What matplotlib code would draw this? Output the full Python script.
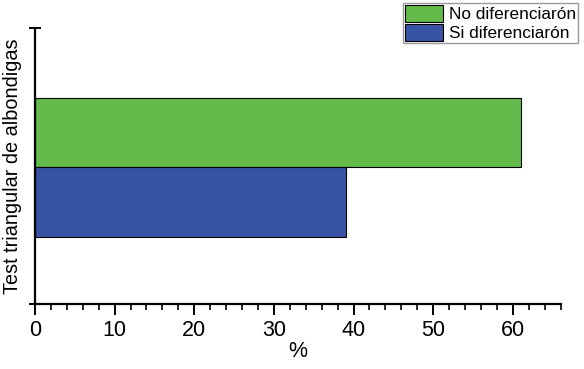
import matplotlib.pyplot as plt
from matplotlib.ticker import MultipleLocator

plt.rcParams['font.family'] = ['Liberation Sans', 'DejaVu Sans']

series = ["No diferenciarón", "Si diferenciarón"]
values = [61, 39]
colors = ["#62bb4a", "#3953a4"]

fig = plt.figure(figsize=(5.84, 3.69), dpi=100)
ax = fig.add_axes([0.0599, 0.176, 0.900, 0.748])

ypos = [0.621, 0.370]
for name, v, c, y in zip(series, values, colors, ypos):
    ax.barh(y, v, height=0.252, color=c, edgecolor="black", linewidth=0.8, label=name)

ax.set_xlim(0, 66)
ax.set_ylim(0, 1)
ax.xaxis.set_major_locator(MultipleLocator(10))
ax.xaxis.set_minor_locator(MultipleLocator(2))
ax.set_yticks([0, 1])
ax.set_yticklabels([])
ax.tick_params(axis='x', which='major', length=8, width=1.4, labelsize=15.5, pad=3.5)
ax.tick_params(axis='x', which='minor', length=4.5, width=1.2)
ax.tick_params(axis='y', direction='inout', length=8, width=1.4)
for s in ["top", "right"]:
    ax.spines[s].set_visible(False)
for s in ["left", "bottom"]:
    ax.spines[s].set_linewidth(1.6)

ax.set_xlabel("%", fontsize=15.5, labelpad=0)
ax.set_ylabel("Test triangular de albondigas", fontsize=14.3, labelpad=2)

leg = fig.legend(loc="upper right", bbox_to_anchor=(0.99, 0.993), fontsize=12.4,
                 handlelength=2.2, handleheight=1.15, handletextpad=0.35,
                 labelspacing=0.1, borderpad=0.12, borderaxespad=0,
                 fancybox=False, frameon=True, edgecolor="#808080")
leg.get_frame().set_linewidth(1.0)

fig.savefig("out.png", dpi=100)
